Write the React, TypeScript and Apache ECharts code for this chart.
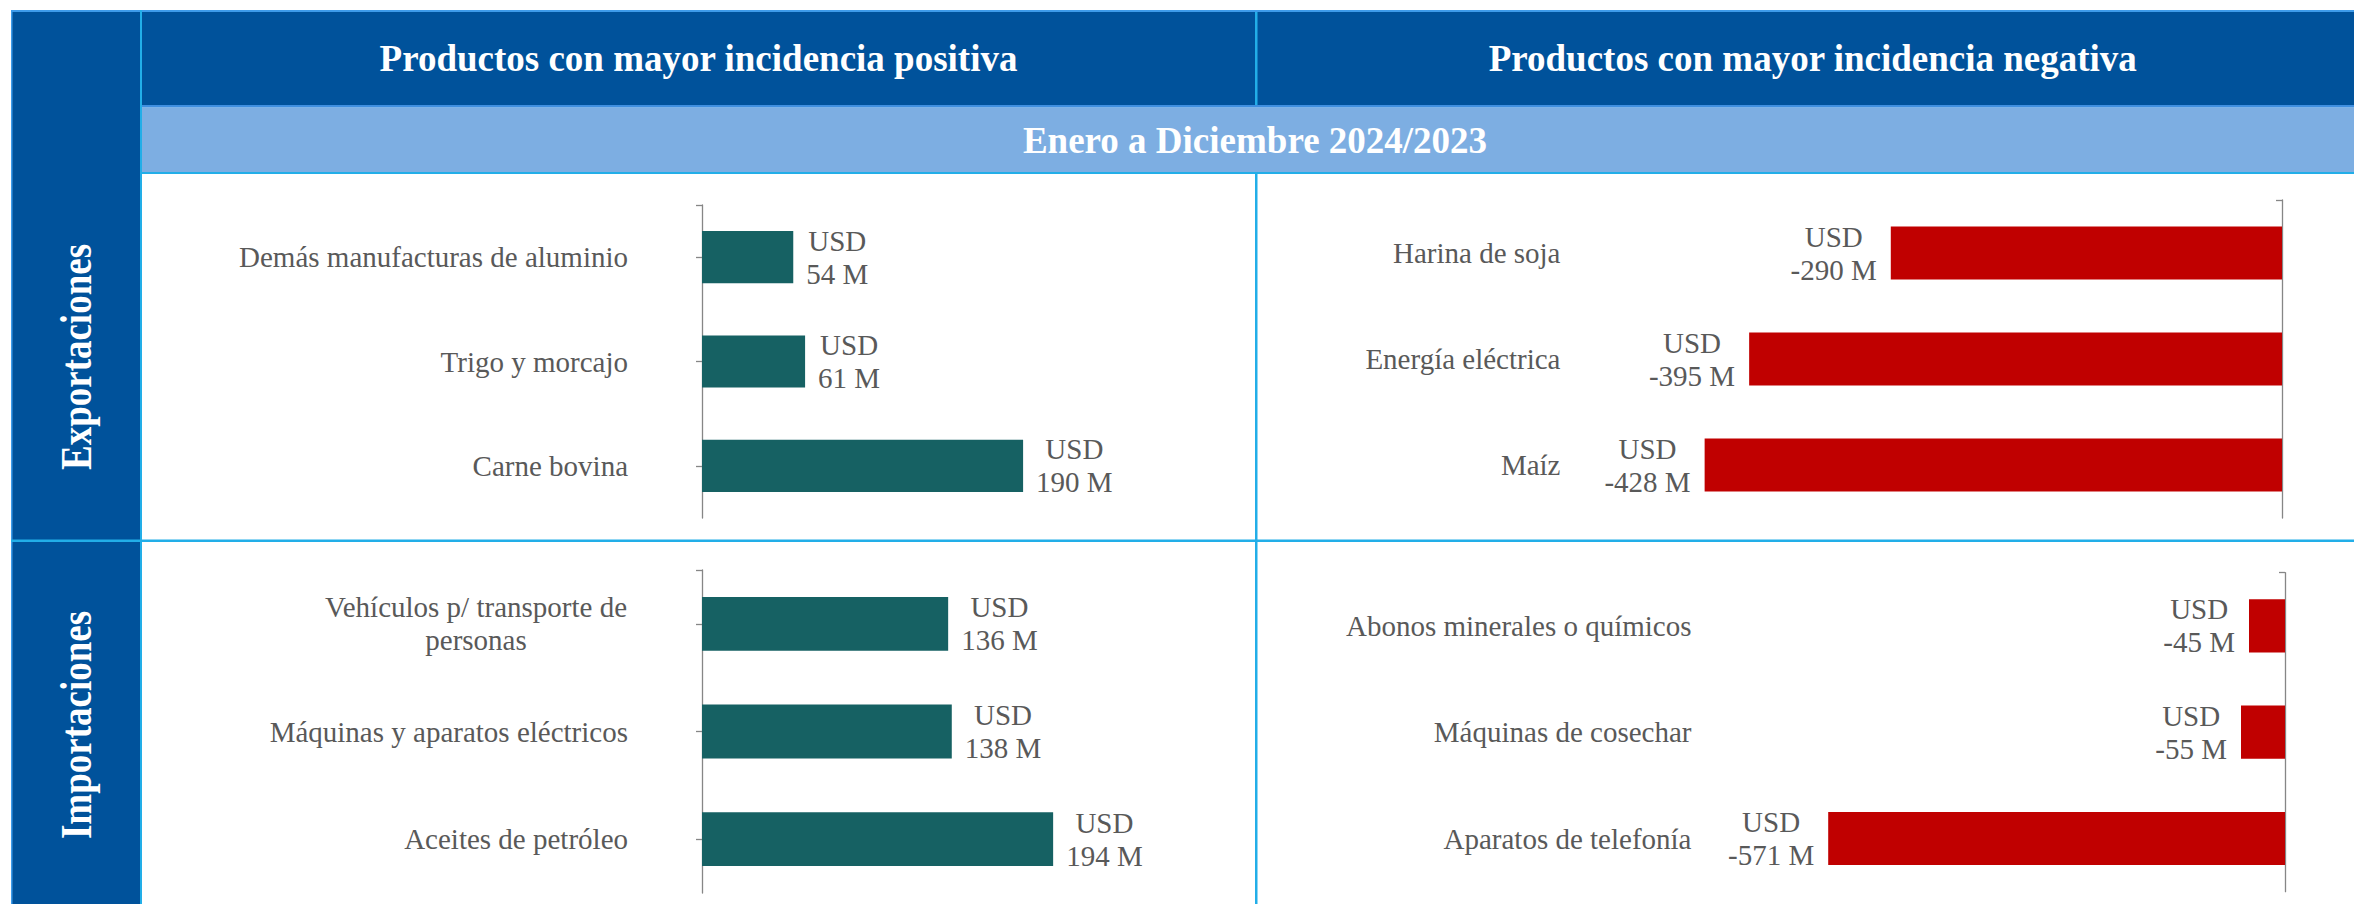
import React, { useEffect, useRef } from "react";
import * as echarts from "echarts";

// ---- Data ----
const headerTitles = ["Productos con mayor incidencia positiva", "Productos con mayor incidencia negativa"];
const periodTitle = "Enero a Diciembre 2024/2023";
const rowTitles = ["Exportaciones", "Importaciones"];

const expPosCats = ["Demás manufacturas de aluminio", "Trigo y morcajo", "Carne bovina"];
const expPosVals = [54, 61, 190];
const expNegCats = ["Harina de soja", "Energía eléctrica", "Maíz"];
const expNegVals = [-290, -395, -428];
const impPosCats = ["Vehículos p/ transporte de\npersonas", "Máquinas y aparatos eléctricos", "Aceites de petróleo"];
const impPosVals = [136, 138, 194];
const impNegCats = ["Abonos minerales o químicos", "Máquinas de cosechar", "Aparatos de telefonía"];
const impNegVals = [-45, -55, -571];

// ---- Styles ----
const FONT = '"Liberation Serif", "Times New Roman", serif';
const DARK_BLUE = "#00529B";
const BAND_BLUE = "#7DAEE2";
const CYAN = "#22AEE8";
const SEP_BLUE = "#3F8FE0";
const TOP_BLUE = "#3E9BEA";
const TEAL = "#166163";
const RED = "#C00000";
const GRAY_TEXT = "#595959";
const AXIS_GRAY = "#868686";
const LABEL_SIZE = 29;
const LINE_H = 33;

let measureCtx: CanvasRenderingContext2D | null = null;
function textWidth(s: string): number {
  if (!measureCtx) {
    const c = document.createElement("canvas");
    measureCtx = c.getContext("2d");
  }
  if (!measureCtx) return s.length * LABEL_SIZE * 0.5;
  measureCtx.font = `${LABEL_SIZE}px "Liberation Serif"`;
  return measureCtx.measureText(s).width;
}

function valueText(v: number) {
  return `USD\n${v} M`;
}

function barData(vals: number[], positive: boolean, gap: number) {
  return vals.map((v) => {
    const w = Math.max(textWidth("USD"), textWidth(`${v} M`));
    return {
      value: v,
      label: { offset: [(positive ? 1 : -1) * (gap + w / 2), 0] },
    };
  });
}

function catFormatter(cats: string[]) {
  let maxW = 0;
  cats.forEach((c) => {
    if (c.includes("\n")) c.split("\n").forEach((l) => (maxW = Math.max(maxW, textWidth(l))));
  });
  return {
    formatter: (v: string) =>
      v.includes("\n") ? v.split("\n").map((l) => `{c|${l}}`).join("\n") : v,
    rich: {
      c: {
        width: Math.ceil(maxW) + 1,
        align: "center",
        fontSize: LABEL_SIZE,
        fontFamily: FONT,
        color: GRAY_TEXT,
        lineHeight: LINE_H,
      },
    },
  };
}

export default function App() {
  const ref = useRef<HTMLDivElement>(null);

  useEffect(() => {
    if (!ref.current) return;
    const chart = echarts.init(ref.current, undefined, { renderer: "svg" });

    const grids = [
      { left: 702, top: 205, width: 422.5, height: 313 },
      { left: 1607.5, top: 200, width: 674.5, height: 318 },
      { left: 702, top: 570, width: 452.5, height: 323 },
      { left: 1805, top: 572.7, width: 480, height: 319 },
    ];

    const xRanges = [
      { min: 0, max: 250 },
      { min: -500, max: 0 },
      { min: 0, max: 250 },
      { min: -600, max: 0 },
    ];

    const catsList = [expPosCats, expNegCats, impPosCats, impNegCats];
    const valsList = [expPosVals, expNegVals, impPosVals, impNegVals];
    const positives = [true, false, true, false];
    const labelMargins = [74, 47, 74, 113.5];

    const xAxis: any[] = xRanges.map((r, i) => ({
      type: "value",
      gridIndex: i,
      min: r.min,
      max: r.max,
      show: false,
    }));

    const lineStyle = { color: AXIS_GRAY, width: 1.3 };
    const yAxis: any[] = [];
    const series: any[] = [];
    catsList.forEach((cats, i) => {
      const pos = positives[i];
      const fmt = catFormatter(cats);
      // label axis
      yAxis.push({
        type: "category",
        gridIndex: i,
        data: cats,
        inverse: true,
        position: "left",
        axisLine: pos
          ? { show: true, onZero: false, lineStyle }
          : { show: false, onZero: false },
        axisTick: pos
          ? { show: true, alignWithLabel: true, length: 6, lineStyle }
          : { show: false },
        axisLabel: {
          margin: labelMargins[i],
          fontSize: LABEL_SIZE,
          fontFamily: FONT,
          color: GRAY_TEXT,
          lineHeight: LINE_H,
          ...fmt,
        },
        splitLine: { show: false },
      });
      const yIdxLabel = yAxis.length - 1;
      if (!pos) {
        yAxis.push({
          type: "category",
          gridIndex: i,
          data: cats,
          inverse: true,
          position: "right",
          axisLine: { show: true, onZero: false, lineStyle },
          axisTick: { show: true, inside: true, alignWithLabel: true, length: 6, lineStyle },
          axisLabel: { show: false },
          splitLine: { show: false },
        });
      }
      // small end tick at the top of the axis line
      yAxis.push({
        type: "value",
        gridIndex: i,
        min: 0,
        max: 1,
        inverse: true,
        position: pos ? "left" : "right",
        axisLine: { show: false, onZero: false },
        axisTick: {
          show: true,
          inside: !pos,
          customValues: [0],
          length: 6,
          lineStyle,
        },
        axisLabel: { show: false },
        splitLine: { show: false },
      });
      series.push({
        type: "bar",
        xAxisIndex: i,
        yAxisIndex: yIdxLabel,
        barWidth: "50%",
        itemStyle: { color: pos ? TEAL : RED },
        data: barData(valsList[i], pos, pos ? 13 : 14),
        label: {
          show: true,
          position: pos ? "right" : "left",
          distance: 0,
          align: "center",
          verticalAlign: "middle",
          fontSize: LABEL_SIZE,
          fontFamily: FONT,
          color: GRAY_TEXT,
          lineHeight: LINE_H,
          formatter: (p: any) => valueText(p.value),
        },
        z: 3,
      });
    });

    const headerText = (text: string, x: number, y: number, rotation = 0, scaleY = 1) => ({
      type: "text",
      x,
      y,
      rotation,
      scaleY,
      z: 10,
      style: {
        text,
        align: "center",
        verticalAlign: "middle",
        fontSize: 37,
        fontWeight: "bold",
        fontFamily: FONT,
        fill: "#FFFFFF",
      },
    });

    const rect = (x: number, y: number, w: number, h: number, fill: string, z = 0) => ({
      type: "rect",
      shape: { x, y, width: w, height: h },
      style: { fill },
      z,
      silent: true,
    });

    const graphic: any[] = [
      rect(12, 10, 128, 899, DARK_BLUE),
      rect(142, 10, 2226, 95, DARK_BLUE),
      rect(142, 105, 2226, 2.5, SEP_BLUE, 1),
      rect(142, 107.5, 2226, 64.5, BAND_BLUE),
      rect(142, 172, 2226, 2, CYAN, 1),
      rect(11, 10, 2357, 2, TOP_BLUE, 1),
      rect(11, 10, 1.5, 899, TOP_BLUE, 1),
      rect(140, 10, 2, 899, CYAN, 1),
      rect(11, 539.5, 2357, 2.5, CYAN, 1),
      rect(1255, 12, 2.5, 93, CYAN, 1),
      rect(1255, 174, 2.5, 735, CYAN, 1),
      headerText(headerTitles[0], 698.5, 58.5),
      headerText(headerTitles[1], 1812.75, 58.5),
      headerText(periodTitle, 1255, 140),
      headerText(rowTitles[0], 76, 357, Math.PI / 2, 1.2),
      headerText(rowTitles[1], 76, 725, Math.PI / 2, 1.2),
    ];

    chart.setOption({
      animation: false,
      backgroundColor: "#FFFFFF",
      grid: grids,
      xAxis,
      yAxis,
      series,
      graphic,
    });

    return () => chart.dispose();
  }, []);

  return (
    <div
      ref={ref}
      style={{ position: "absolute", left: 0, top: 0, width: 2354, height: 904 }}
    />
  );
}
